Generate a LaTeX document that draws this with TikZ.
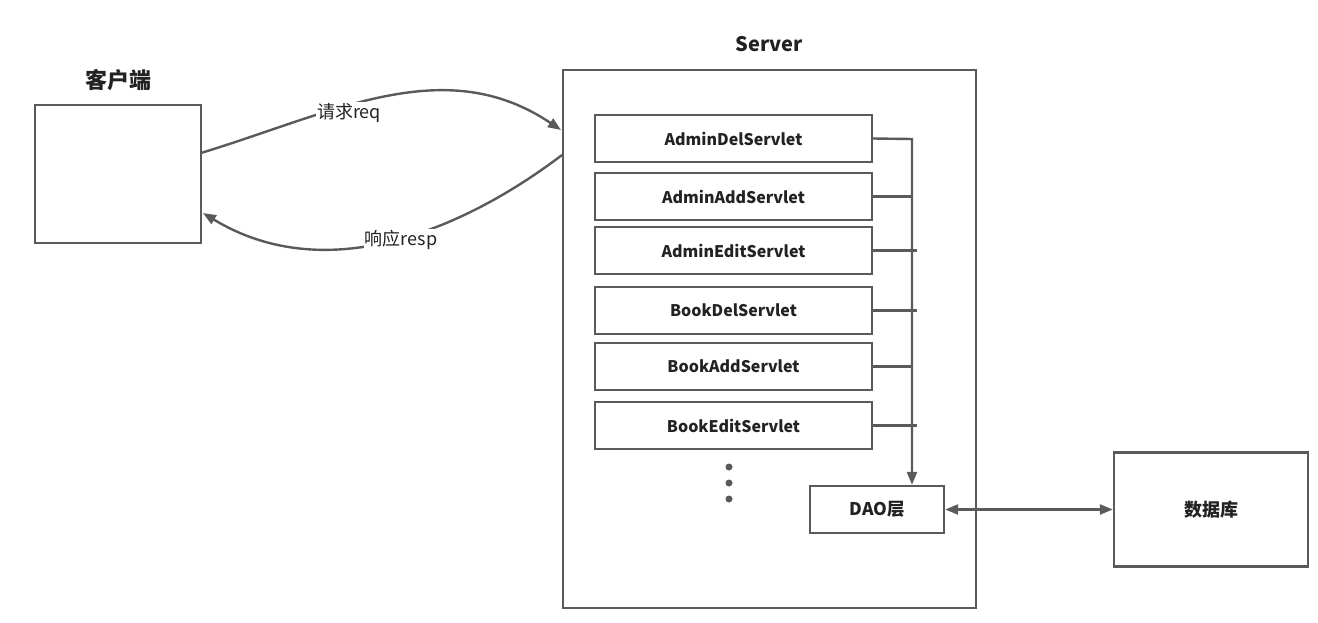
\documentclass[tikz,border=0pt]{standalone}
\usepackage{fontspec}
\setmainfont{Noto Sans CJK SC}
\usetikzlibrary{arrows.meta}
\definecolor{ink}{HTML}{5A5A5A}
\definecolor{txt}{HTML}{222222}
\begin{document}
\begin{tikzpicture}[x=1pt,y=-1pt,
  box/.style={draw=ink,line width=2.4pt,fill=white,inner sep=0pt},
  servlet/.style={box,minimum width=277pt,minimum height=47pt,font=\fontsize{16}{18}\selectfont\bfseries,text=txt},
  title/.style={font=\fontsize{20}{22}\selectfont\bfseries,text=txt},
  wire/.style={draw=ink,line width=2.4pt},
  tip/.style={-{Triangle[length=13pt,width=10pt]}},
  curvelabel/.style={fill=white,inner sep=1pt,font=\fontsize{18}{20}\selectfont,text=txt},
  dot/.style={circle,fill=ink,inner sep=0pt,minimum size=7pt}]
\useasboundingbox (0,0) rectangle (1318,622);

% client and server frames
\node[box,minimum width=166pt,minimum height=138pt] (client) at (118,174) {};
\node[title,font=\fontsize{22}{24}\selectfont\bfseries] (clientT) at (118,80) {客户端};
\node[box,minimum width=413pt,minimum height=538pt] (server) at (769.5,339) {};
\node[title] (serverT) at (769,44) {Server};

% servlets
\node[servlet] (s1) at (733.5,138.5) {AdminDelServlet};
\node[servlet] (s2) at (733.5,196.5) {AdminAddServlet};
\node[servlet] (s3) at (733.5,250.5) {AdminEditServlet};
\node[servlet] (s4) at (733.5,310.5) {BookDelServlet};
\node[servlet] (s5) at (733.5,366.5) {BookAddServlet};
\node[servlet] (s6) at (733.5,425.5) {BookEditServlet};

% ellipsis
\node[dot] (d1) at (729,467) {};
\node[dot] (d2) at (729,483) {};
\node[dot] (d3) at (729,499) {};

% DAO and database
\node[box,minimum width=134pt,minimum height=47pt,font=\fontsize{17.5}{19}\selectfont\bfseries,text=txt] (dao) at (877,509.5) {DAO层};
\node[box,minimum width=194pt,minimum height=114pt,font=\fontsize{18}{20}\selectfont\bfseries,text=txt] (db) at (1211,509.5) {数据库};

% bus from servlets down to DAO
\coordinate (bus) at (912,139);
\draw[wire,tip] (s1.east) -- (bus) -- (bus |- dao.north);
\draw[wire] (s2.east) -- (s2.east -| bus);
\draw[wire] (s3.east) -- ++(44,0);
\draw[wire] (s4.east) -- ++(44,0);
\draw[wire] (s5.east) -- (s5.east -| bus);
\draw[wire] (s6.east) -- ++(44,0);

% DAO <-> database
\draw[wire,{Triangle[length=13pt,width=10pt]}-{Triangle[length=13pt,width=10pt]}] (dao.east) -- (db.west);

% request / response
\coordinate (reqA) at (201,153);
\coordinate (reqB) at (561,130);
\coordinate (respA) at (562,155);
\coordinate (respB) at (203,213);
\draw[wire,tip] (reqA) .. controls (335,112) and (445,52) .. (reqB);
\draw[wire,tip] (respA) .. controls (470,225) and (330,290) .. (respB);
\node[curvelabel] (req) at (349,113) {请求req};
\node[curvelabel] (resp) at (401,240) {响应resp};
\end{tikzpicture}
\end{document}
